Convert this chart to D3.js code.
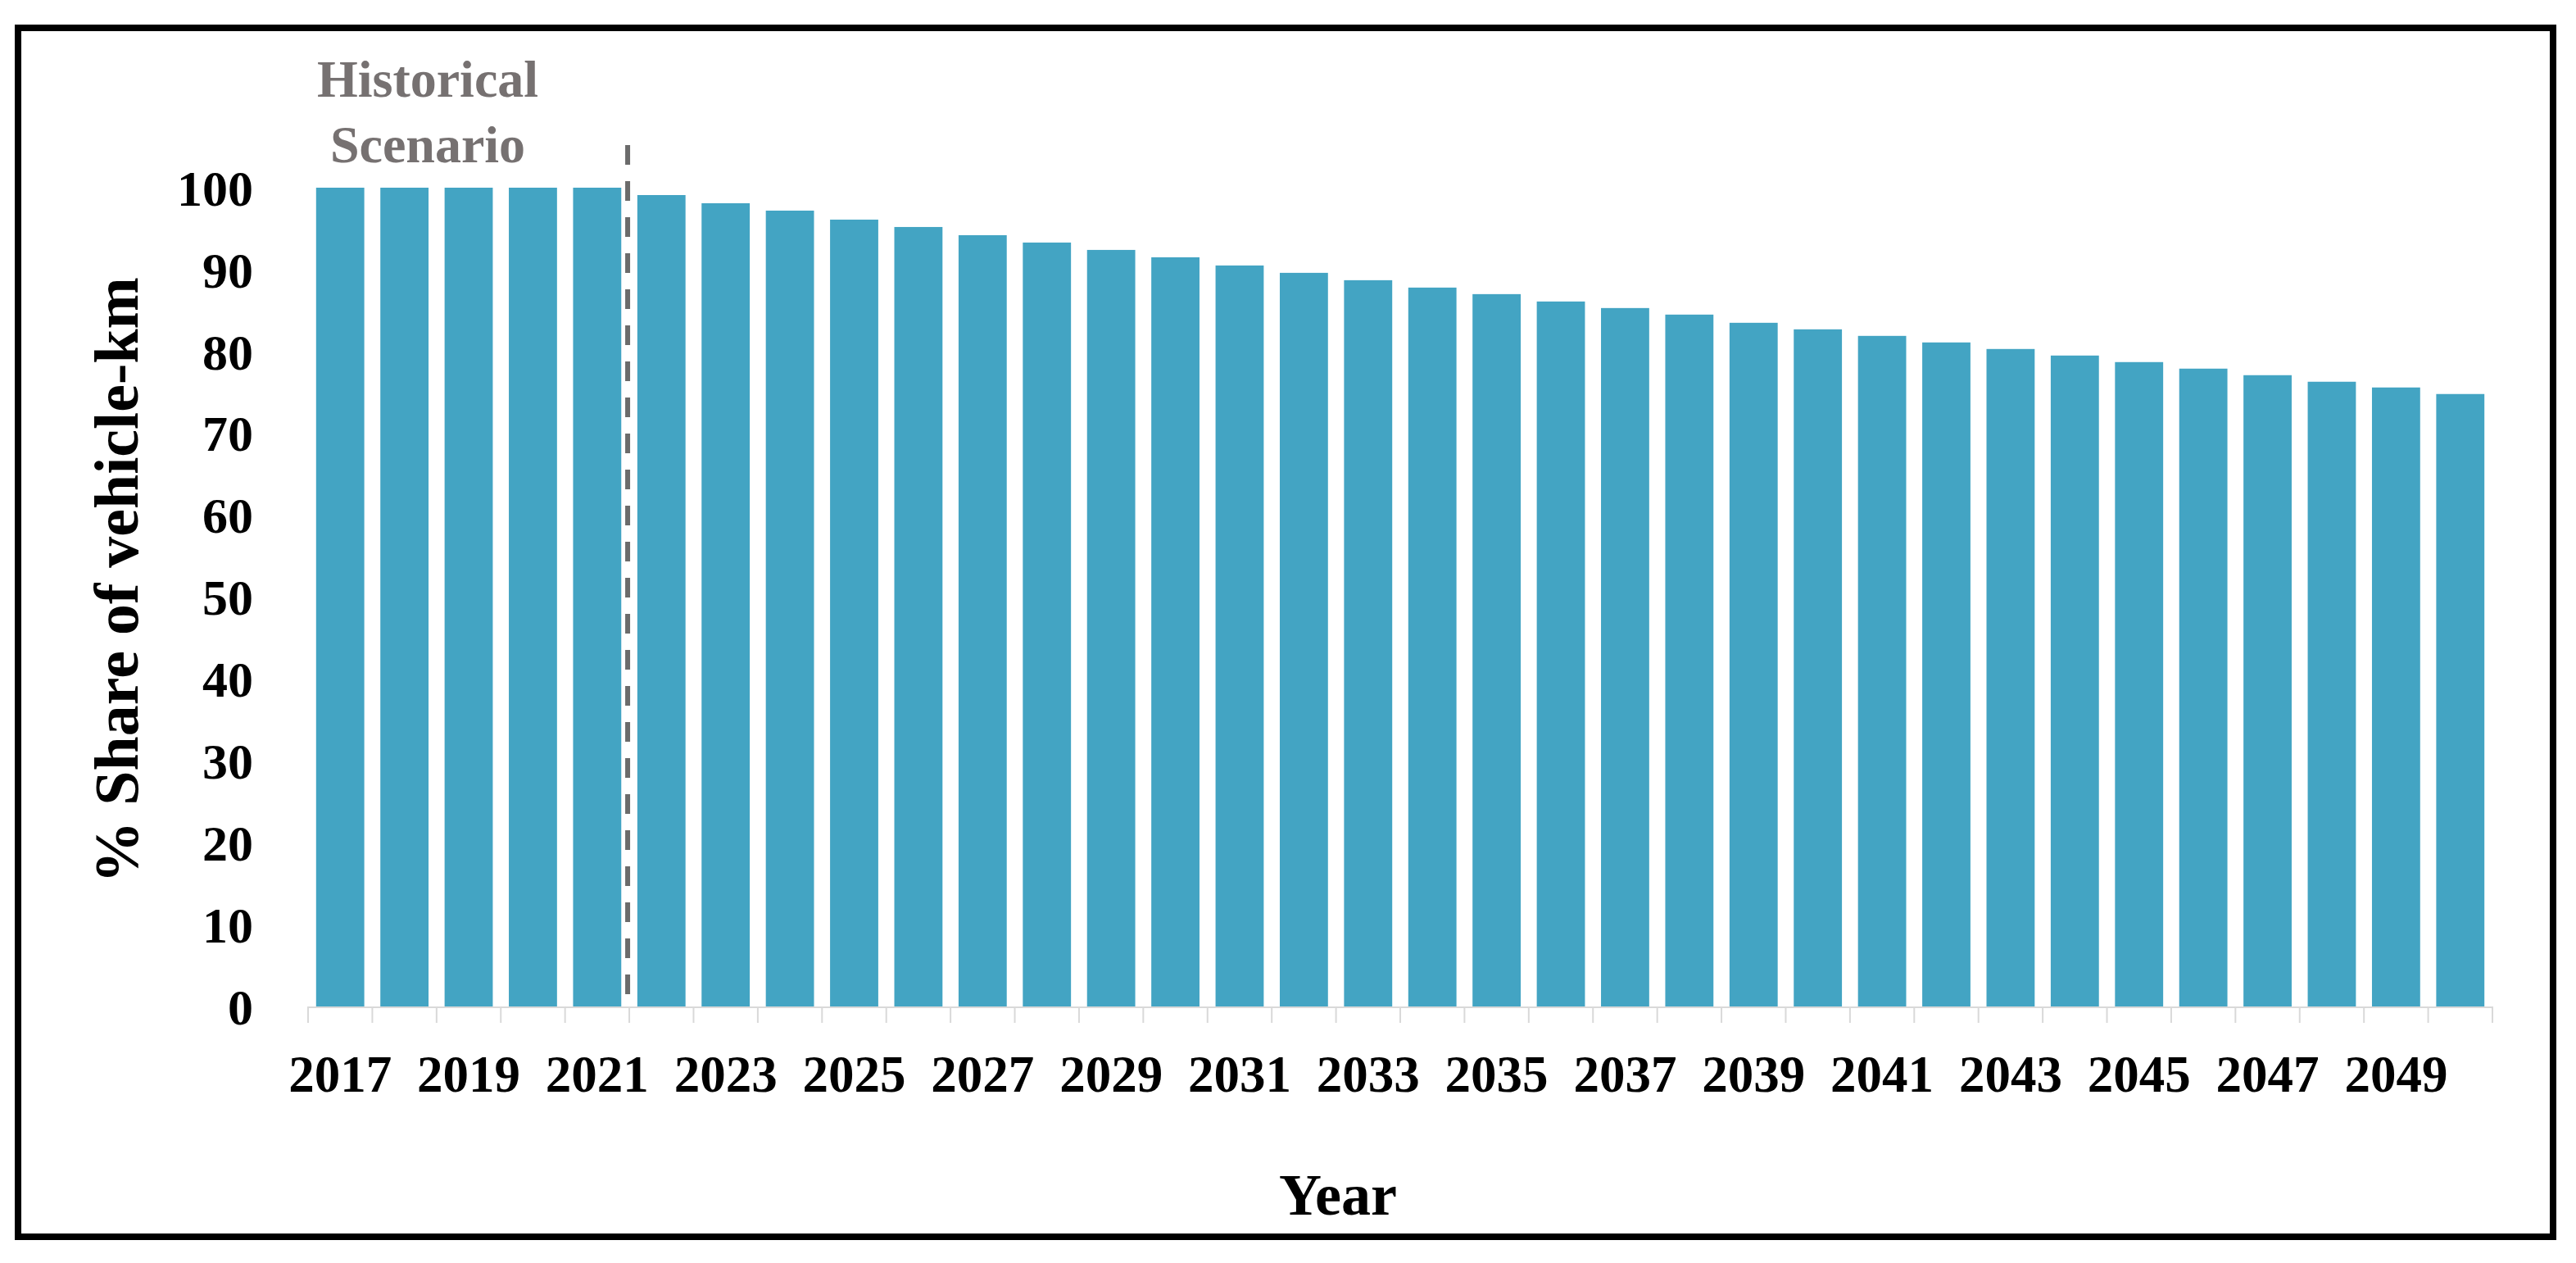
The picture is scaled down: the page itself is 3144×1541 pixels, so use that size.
<!DOCTYPE html>
<html>
<head>
<meta charset="utf-8">
<script src="https://cdn.jsdelivr.net/npm/d3@7"></script>
<style>
html,body{margin:0;padding:0;background:#fff;}
svg{display:block;}
text{font-family:"Liberation Serif","Times New Roman",serif;font-weight:bold;}
</style>
</head>
<body>
<svg id="chart" width="3144" height="1541"></svg>
<script>
const years = [2017,2018,2019,2020,2021,2022,2023,2024,2025,2026,2027,2028,2029,2030,2031,2032,2033,2034,2035,2036,2037,2038,2039,2040,2041,2042,2043,2044,2045,2046,2047,2048,2049,2050];
const shares = [100,100,100,100,100,99.1,98.1,97.2,96.1,95.2,94.2,93.3,92.4,91.5,90.5,89.6,88.7,87.8,87.0,86.1,85.3,84.5,83.5,82.7,81.9,81.1,80.3,79.5,78.7,77.9,77.1,76.3,75.6,74.8];
const yTicks = [0,10,20,30,40,50,60,70,80,90,100];
const xTickLabels = [2017,2019,2021,2023,2025,2027,2029,2031,2033,2035,2037,2039,2041,2043,2045,2047,2049];
const lastHistoricalYear = 2021;
const annotationLines = ["Historical","Scenario"];
const yTitle = "% Share of vehicle-km";
const xTitle = "Year";

const svg = d3.select("#chart");

// frame
svg.append("rect").attr("x",22).attr("y",34).attr("width",3094).attr("height",1475)
  .attr("fill","none").attr("stroke","#000").attr("stroke-width",8);

const x = d3.scaleBand().domain(years).range([376,3042]).paddingInner(0.25).paddingOuter(0.125);
const y = d3.scaleLinear().domain([0,100]).range([1228,229]);
const step = x.step();
const x0 = x.range()[0];

// bars
svg.append("g").selectAll("rect").data(years).join("rect")
  .attr("x",d=>x(d)).attr("width",x.bandwidth())
  .attr("y",(d,i)=>y(shares[i])).attr("height",(d,i)=>y(0)-y(shares[i]))
  .attr("fill","#43a4c3");

// x axis line and ticks (category boundaries)
const bounds = d3.range(years.length+1).map(i=>x0+i*step);
svg.append("line").attr("x1",x0).attr("x2",x.range()[1]).attr("y1",y(0)+1).attr("y2",y(0)+1)
  .attr("stroke","#d9d9d9").attr("stroke-width",2);
svg.append("g").selectAll("line").data(bounds).join("line")
  .attr("x1",d=>d).attr("x2",d=>d).attr("y1",y(0)).attr("y2",y(0)+20)
  .attr("stroke","#d9d9d9").attr("stroke-width",2);

// x tick labels
svg.append("g").selectAll("text").data(xTickLabels).join("text")
  .attr("x",d=>x(d)+x.bandwidth()/2).attr("y",1332)
  .attr("text-anchor","middle").attr("font-size",63).attr("fill","#000")
  .text(d=>d);

// y tick labels
svg.append("g").selectAll("text").data(yTicks).join("text")
  .attr("x",309).attr("y",d=>y(d)).attr("dy","0.35em")
  .attr("text-anchor","end").attr("font-size",62).attr("fill","#000")
  .text(d=>d);

// dashed separator
const sepX = (x(lastHistoricalYear)+x.bandwidth()+x(lastHistoricalYear+1))/2 - 2;
svg.append("line").attr("x1",sepX).attr("x2",sepX).attr("y1",177).attr("y2",y(0))
  .attr("stroke","#6b6b6b").attr("stroke-width",6).attr("stroke-dasharray","24 20");

// annotation
svg.append("g").selectAll("text").data(annotationLines).join("text")
  .attr("x",522).attr("y",(d,i)=>118+i*80)
  .attr("text-anchor","middle").attr("font-size",64).attr("fill","#767171")
  .text(d=>d);

// axis titles
svg.append("text").attr("transform","translate(168,708) rotate(-90)")
  .attr("text-anchor","middle").attr("font-size",76).attr("fill","#000").text(yTitle);
svg.append("text").attr("x",1633).attr("y",1482)
  .attr("text-anchor","middle").attr("font-size",72).attr("fill","#000").text(xTitle);
</script>
</body>
</html>
